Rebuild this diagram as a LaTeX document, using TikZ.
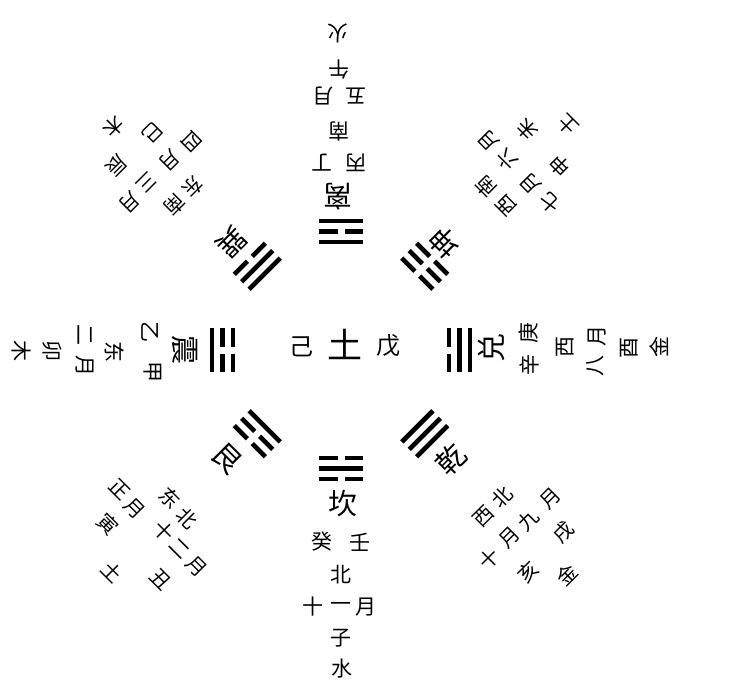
\documentclass[tikz,border=0pt]{standalone}
\usepackage{fontspec}
\newfontfamily\cjk{Noto Sans CJK SC}
\tikzset{
  ch/.style={font=\cjk\fontsize{21}{21}\selectfont, inner sep=0pt, transform shape},
  chd/.style={font=\cjk\fontsize{20}{20}\selectfont, inner sep=0pt, transform shape},
  gua/.style={font=\cjk\fontsize{29}{29}\selectfont, inner sep=0pt, transform shape},
  yao/.style={line width=4.6pt},
}
\newcommand\gyang[1]{\draw[yao] (-22,#1) -- (22,#1);}
\newcommand\gyin[1]{\draw[yao] (-22,#1) -- (-3.5,#1) (3.5,#1) -- (22,#1);}
\begin{document}
\begin{tikzpicture}[x=1pt,y=-1pt]
\useasboundingbox (0,0) rectangle (735,688);
% centre
\node[font=\cjk\fontsize{24}{24}\selectfont, inner sep=0pt] (cji) at (301,347) {己};
\node[font=\cjk\fontsize{35}{35}\selectfont, inner sep=0pt] (ctu) at (345,344) {土};
\node[font=\cjk\fontsize{24}{24}\selectfont, inner sep=0pt] (cwu) at (388,346) {戊};
% Kan (north, bottom)
\begin{scope}[shift={(341,350)}, rotate=0]
  \gyin{108} \gyang{118.5} \gyin{129}
  \node[gua] (kan) at (2,153) {坎};
  \node[ch] (kan1) at (-19,192) {癸};
  \node[ch] (kan2) at (19,192) {壬};
  \node[ch] (kan3) at (0,225) {北};
  \node[ch] (kan4) at (-28,257) {十};
  \node[ch] (kan5) at (0,257) {一};
  \node[ch] (kan6) at (25,257) {月};
  \node[ch] (kan7) at (0,288) {子};
  \node[ch] (kan8) at (1,319) {水};
\end{scope}
% Li (south, top)
\begin{scope}[shift={(341,350)}, rotate=180]
  \gyang{108} \gyin{118.5} \gyang{129}
  \node[gua] (li) at (3,153) {离};
  \node[ch] (li1) at (-15,187) {丙};
  \node[ch] (li2) at (19,187) {丁};
  \node[ch] (li3) at (2,219) {南};
  \node[ch] (li4) at (-15,254) {五};
  \node[ch] (li5) at (18,254) {月};
  \node[ch] (li6) at (2,281) {午};
  \node[ch] (li7) at (3,317) {火};
\end{scope}
% Zhen (east, left)
\begin{scope}[shift={(341,350)}, rotate=-90]
  \gyin{108} \gyin{118.5} \gyang{129}
  \node[gua] (zhen) at (0,156) {震};
  \node[ch] (zhen1) at (-18,191) {乙};
  \node[ch] (zhen2) at (22,188) {甲};
  \node[ch] (zhen3) at (2,226) {东};
  \node[ch] (zhen4) at (-15,256) {二};
  \node[ch] (zhen5) at (16,256) {月};
  \node[ch] (zhen6) at (1,289) {卯};
  \node[ch] (zhen7) at (1,320) {木};
\end{scope}
% Dui (west, right)
\begin{scope}[shift={(341,350)}, rotate=90]
  \gyin{108} \gyang{118.5} \gyang{129}
  \node[gua] (dui) at (2,151) {兑};
  \node[ch] (dui1) at (-15,188) {辛};
  \node[ch] (dui2) at (17,188) {庚};
  \node[ch] (dui3) at (3,224) {西};
  \node[ch] (dui4) at (-16,254) {八};
  \node[ch] (dui5) at (14,256) {月};
  \node[ch] (dui6) at (2,288) {酉};
  \node[ch] (dui7) at (3,318) {金};
\end{scope}
% Qian (north-west, bottom right)
\begin{scope}[shift={(341,350)}, rotate=45]
  \gyang{108} \gyang{118.5} \gyang{129}
  \node[gua] (qian) at (0,155) {乾};
  \node[chd] (qian1) at (-17,218) {西};
  \node[chd] (qian2) at (10,218) {北};
  \node[chd] (qian3) at (-43,252) {十};
  \node[chd] (qian4) at (-13,252) {月};
  \node[chd] (qian5) at (12,253) {九};
  \node[chd] (qian6) at (43,253) {月};
  \node[chd] (qian7) at (-25,289) {亥};
  \node[chd] (qian8) at (28,286) {戌};
  \node[chd] (qian9) at (1,319) {金};
\end{scope}
% Gen (north-east, bottom left)
\begin{scope}[shift={(341,350)}, rotate=-45]
  \gyang{108} \gyin{118.5} \gyin{129}
  \node[gua] (gen) at (-4,157) {艮};
  \node[chd] (gen1) at (-16,226) {东};
  \node[chd] (gen2) at (10,228) {北};
  \node[chd] (gen3) at (-58,255) {正};
  \node[chd] (gen4) at (-34,258) {月};
  \node[chd] (gen5) at (3,253) {十};
  \node[chd] (gen6) at (26,255) {二};
  \node[chd] (gen7) at (51,255) {月};
  \node[chd] (gen8) at (-41,288) {寅};
  \node[chd] (gen9) at (35,290) {丑};
  \node[chd] (gen10) at (-5,319) {土};
\end{scope}
% Xun (south-east, top left)
\begin{scope}[shift={(341,350)}, rotate=-135]
  \gyang{108} \gyang{118.5} \gyin{129}
  \node[gua] (xun) at (1,153) {巽};
  \node[chd] (xun1) at (-10,220) {东};
  \node[chd] (xun2) at (15,220) {南};
  \node[chd] (xun3) at (-42,253) {四};
  \node[chd] (xun4) at (-13,255) {月};
  \node[chd] (xun5) at (19,256) {三};
  \node[chd] (xun6) at (45,254) {月};
  \node[chd] (xun7) at (-20,287) {巳};
  \node[chd] (xun8) at (28,289) {辰};
  \node[chd] (xun9) at (3,319) {木};
\end{scope}
% Kun (south-west, top right)
\begin{scope}[shift={(341,350)}, rotate=135]
  \gyin{108} \gyin{118.5} \gyin{129}
  \node[gua] (kun) at (2,149) {坤};
  \node[chd] (kun1) at (-15,219) {西};
  \node[chd] (kun2) at (13,218) {南};
  \node[chd] (kun3) at (-44,252) {七};
  \node[chd] (kun4) at (-16,252) {月};
  \node[chd] (kun5) at (17,252) {六};
  \node[chd] (kun6) at (44,252) {月};
  \node[chd] (kun7) at (-25,285) {申};
  \node[chd] (kun8) at (24,287) {未};
  \node[chd] (kun9) at (-1,319) {土};
\end{scope}
\end{tikzpicture}
\end{document}
